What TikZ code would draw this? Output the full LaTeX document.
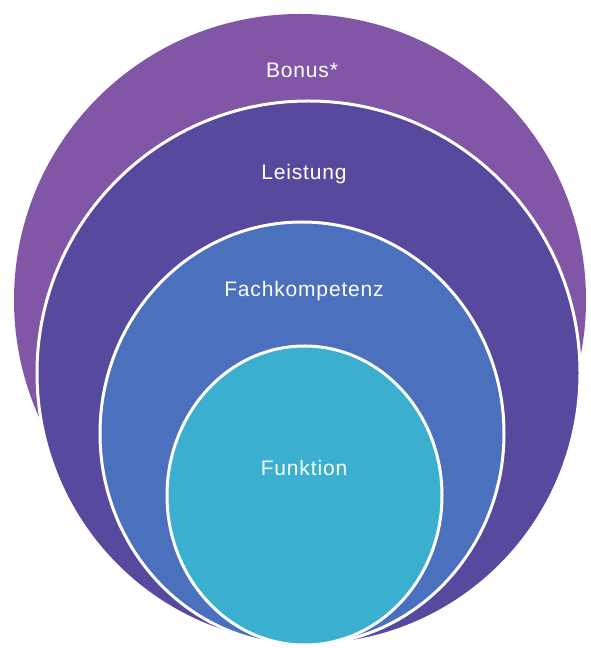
\documentclass[tikz,border=0pt]{standalone}
\usepackage{fontspec}
\setmainfont[LetterSpace=4]{Liberation Sans}
\usepackage{tikz}
\definecolor{bonuscol}{HTML}{8156A6}
\definecolor{leistcol}{HTML}{574A9E}
\definecolor{fachcol}{HTML}{4A70BE}
\definecolor{funkcol}{HTML}{3BAFD0}
\tikzset{ring/.style={draw=white, line width=3pt},
  lbl/.style={text=white, font=\fontsize{21}{25}\selectfont}}

\begin{document}
\begin{tikzpicture}[x=1pt,y=1pt]
\useasboundingbox (0,0) rectangle (590,648);
\fill[bonuscol] (300,348) circle (286);
\draw[ring, fill=leistcol] (308.5,275) ellipse (271.5 and 272);
\draw[ring, fill=fachcol] (302,214.5) ellipse (202 and 211.5);
\draw[ring, fill=funkcol] (304.5,152.5) ellipse (137.5 and 149.5);

\node[lbl] (bonus) at (302,578) {Bonus*};
\node[lbl] (leistung) at (304,474) {Leistung};
\node[lbl] (fach) at (304,357) {Fachkompetenz};
\node[lbl] (funktion) at (304,180) {Funktion};
\end{tikzpicture}
\end{document}
